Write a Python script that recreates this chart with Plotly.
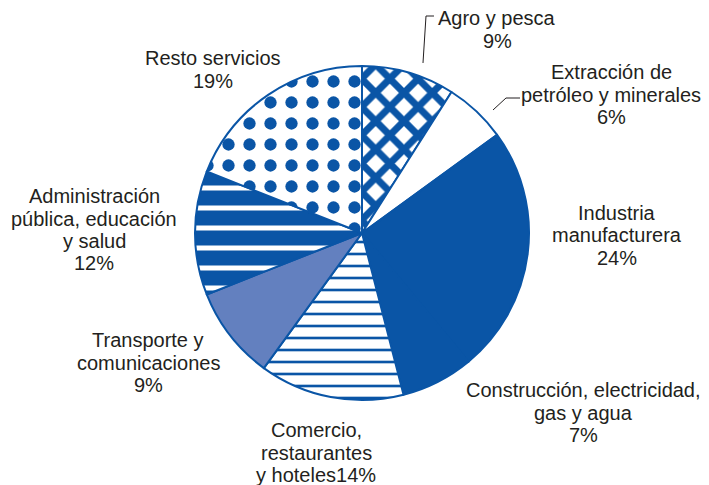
import plotly.graph_objects as go

# sectores (orden horario desde las 12)
sectores = [
    "Agro y pesca",
    "Extracción de petróleo y minerales",
    "Industria manufacturera",
    "Construcción, electricidad, gas y agua",
    "Comercio, restaurantes y hoteles",
    "Transporte y comunicaciones",
    "Administración pública, educación y salud",
    "Resto servicios",
]
porcentajes = [9, 6, 24, 7, 14, 9, 12, 19]

# texto de cada etiqueta, una línea por elemento
textos = [
    ["Agro y pesca", "9%"],
    ["Extracción de", "petróleo y minerales", "6%"],
    ["Industria", "manufacturera", "24%"],
    ["Construcción, electricidad,", "gas y agua", "7%"],
    ["Comercio,", "restaurantes", "y hoteles14%"],
    ["Transporte y", "comunicaciones", "9%"],
    ["Administración", "pública, educación", "y salud", "12%"],
    ["Resto servicios", "19%"],
]

AZUL = "#0a55a6"
AZUL_CLARO = "#6380bf"
TXT = "#231f20"
OFF = 8  # margen del body de la página
W, H = 709 - OFF, 485 - OFF

colores = ["white", "white", AZUL, AZUL, "white", AZUL_CLARO, "white", "white"]
patrones = ["x", "", "", "", "-", "", "-", "."]
tamanos = [20, 8, 8, 8, 12, 8, 20, 21]
solidez = [0.58, 0.3, 0.3, 0.3, 0.22, 0.3, 0.75, 0.27]

cx, cy, r = 362 - OFF, 233 - OFF, 167
fig = go.Figure(go.Pie(
    labels=sectores,
    values=porcentajes,
    sort=False,
    direction="clockwise",
    rotation=0,
    textinfo="none",
    hoverinfo="label+percent",
    marker=dict(
        colors=colores,
        line=dict(color=AZUL, width=2),
        pattern=dict(shape=patrones, fgcolor=AZUL, fgopacity=1, bgcolor=colores,
                     size=tamanos, solidity=solidez, fillmode="overlay"),
    ),
    domain=dict(x=[(cx - r) / W, (cx + r) / W],
                y=[(H - cy - r) / H, (H - cy + r) / H]),
    showlegend=False,
))

# posición de cada etiqueta: centro x y y de la primera línea (px de la imagen)
pos = [(497, 18), (611, 72), (617, 213), (583, 390),
       (316, 430), (148, 340), (94, 196), (213, 58)]
INTERLINEA = 22.5

def to_paper(x, y):
    return (x - OFF) / W, 1 - (y - OFF) / H

for lineas, (x, y0) in zip(textos, pos):
    for i, linea in enumerate(lineas):
        px_, py_ = to_paper(x, y0 + i * INTERLINEA)
        fig.add_annotation(text=linea, x=px_, y=py_, xref="paper", yref="paper",
                           showarrow=False, xanchor="center", yanchor="middle",
                           font=dict(size=20, color=TXT))

# líneas guía
for pts in [[(423, 63), (426, 16), (434, 16)], [(493, 110), (506, 98), (520, 98)]]:
    path = "M " + " L ".join("%.4f,%.4f" % to_paper(x, y) for x, y in pts)
    fig.add_shape(type="path", path=path, xref="paper", yref="paper",
                  line=dict(color=TXT, width=1))

fig.update_layout(
    width=W, height=H,
    margin=dict(l=0, r=0, t=0, b=0),
    paper_bgcolor="white",
    font=dict(family="Arial, Liberation Sans, sans-serif"),
)

fig.write_html("out.html")
